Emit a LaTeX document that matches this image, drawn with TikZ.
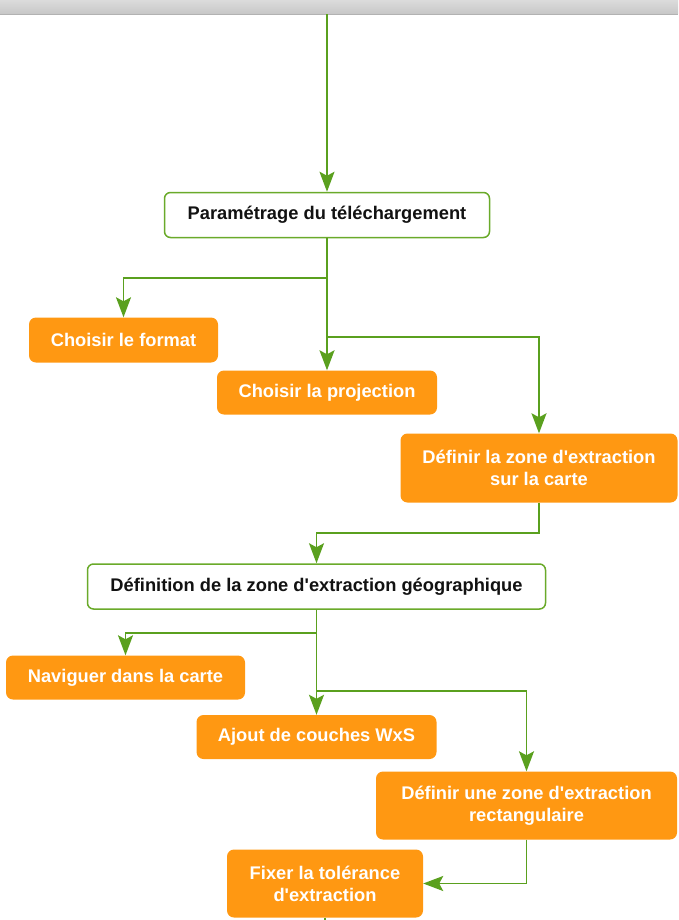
\documentclass[tikz,border=0pt]{standalone}
\usepackage{fontspec}
\setmainfont[Ligatures=TeXOff]{Liberation Sans}
\usetikzlibrary{arrows.meta,calc}
\definecolor{lgreen}{RGB}{90,160,30}
\definecolor{bgreen}{RGB}{106,170,42}
\definecolor{orng}{RGB}{255,152,18}
\tikzset{
  wbox/.style={draw=bgreen, line width=1.5pt, fill=white, rounded corners=6pt, inner sep=0pt,
    font=\fontsize{18.3}{22}\selectfont\bfseries, text=black!93, align=center},
  obox/.style={fill=orng, rounded corners=7pt, inner sep=0pt,
    font=\fontsize{18.3}{22}\selectfont\bfseries, text=white, align=center},
  conn/.style={draw=lgreen, line width=1.8pt},
  arr/.style={conn, -{Stealth[length=20pt, width=15pt, inset=4pt]}}
}
\begin{document}
\begin{tikzpicture}[x=1pt,y=-1pt]
\useasboundingbox (0,0) rectangle (678,920);
\shade[top color=black!14, bottom color=black!22] (0,0) rectangle (678,14);
\draw[black!30, line width=0.8pt] (0,14) -- (678,14);
\coordinate (top) at (327,14.5);
\coordinate (bot) at (325,920);

\node[wbox, minimum width=325, minimum height=45] (p1) at (327,215) {Paramétrage du téléchargement};
\node[obox, minimum width=189, minimum height=45] (f1) at (123.5,340) {Choisir le format};
\node[obox, minimum width=220, minimum height=44] (f2) at (327,392.5) {Choisir la projection};
\node[obox, minimum width=277, minimum height=69] (f3) at (539,468) {Définir la zone d'extraction\\sur la carte};

\node[wbox, minimum width=458, minimum height=45] (p2) at (316.5,586.5) {Définition de la zone d'extraction géographique};
\node[obox, minimum width=239, minimum height=44] (n1) at (125.5,677.5) {Naviguer dans la carte};
\node[obox, minimum width=240, minimum height=44] (n2) at (316.5,737) {Ajout de couches WxS};
\node[obox, minimum width=301, minimum height=68] (n3) at (526.5,805.5) {Définir une zone d'extraction\\rectangulaire};
\node[obox, minimum width=196, minimum height=68] (n4) at (325,883.5) {Fixer la tolérance\\d'extraction};

\draw[arr] (top) -- (p1.north);
\draw[arr] (p1.south) -- ++(0,40) -| (f1.north);
\draw[arr] (p1.south) -- (f2.north);
\draw[arr] ($(p1.south)+(0,99)$) -| (f3.north);
\draw[arr] (f3.south) -- ++(0,30) -| (p2.north);

\draw[arr] (p2.south) -- ++(0,23) -| (n1.north);
\draw[arr] (p2.south) -- (n2.north);
\draw[arr] ($(p2.south)+(0,81)$) -| (n3.north);
\draw[arr] (n3.south) |- (n4.east);
\draw[conn] (n4.south) -- (bot);
\end{tikzpicture}
\end{document}
